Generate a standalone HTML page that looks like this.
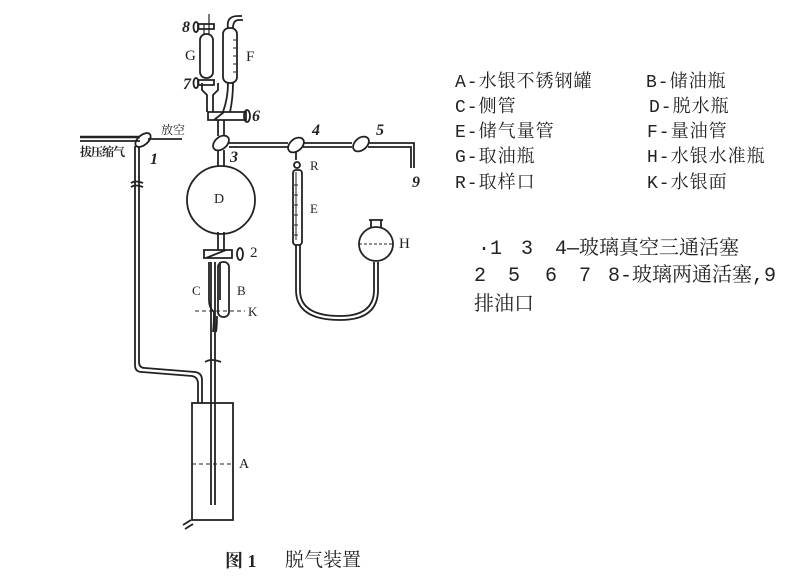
<!DOCTYPE html>
<html><head><meta charset="utf-8"><style>
body{margin:0;background:#fff;width:800px;height:582px;overflow:hidden;position:relative}
.t{position:absolute;font-family:"Liberation Mono","Noto Serif CJK SC",monospace;font-size:18px;letter-spacing:1px;color:#222;white-space:pre;line-height:1}
.b{position:absolute;font-family:"Liberation Serif","Noto Serif CJK SC",serif;font-size:20px;color:#222;white-space:pre;line-height:1}
.m{position:absolute;font-family:"Liberation Mono","Noto Serif CJK SC",monospace;font-size:20px;color:#222;white-space:pre;line-height:1}
</style></head><body>
<svg width="800" height="582" style="position:absolute;left:0;top:0" fill="none" stroke="#222" stroke-width="1.8">
<line x1="80" y1="137" x2="140" y2="137" stroke-width="2.5"/>
<line x1="80" y1="141" x2="140" y2="141"/>
<line x1="148" y1="139" x2="182" y2="139"/>
<ellipse cx="143" cy="140" rx="9" ry="5" transform="rotate(-40 143 140)"/>
<path d="M135 146 V365 Q135 372 142 372 L192 376 Q198 377 198 384 V403"/>
<path d="M139 146 V362 Q139 368 145 368 L195 372 Q202 373 202 380 V403"/>
<path d="M131 183 q4 -3 12 0 M131 187 q4 -3 12 0"/>
<rect x="192" y="403" width="41" height="117"/>
<line x1="192" y1="464" x2="233" y2="464" stroke-dasharray="4,3" stroke-width="1"/>
<path d="M183 525 l8 -5 M185 529 l8 -5"/>
<path d="M211 262 V505 M215 262 V505"/>
<path d="M205 362 q6 -4 16 0"/>
<path d="M209 262 V300 q0 8 5 12 M220 262 V300"/>
<rect x="218" y="262" width="11" height="55" rx="5"/>
<path d="M214 312 q0 12 -1 20 M217 316 q0 10 -1 16"/>
<line x1="195" y1="311" x2="245" y2="311" stroke-dasharray="4,3" stroke-width="1"/>
<path d="M204 250 h28 v8 h-28z M206 258 l20 -8"/>
<ellipse cx="240" cy="254" rx="3" ry="6"/>
<path d="M218 232 V250 M224 232 V250"/>
<circle cx="221" cy="200" r="34"/>
<path d="M218 150 V166 M224 150 V166"/>
<ellipse cx="221" cy="143" rx="9" ry="6" transform="rotate(-40 221 143)"/>
<path d="M218 120 V136 M224 120 V136"/>
<path d="M229 143 H288 M229 147 H288 M303 143 H352 M303 147 H352 M368 143 H414 V168 M368 147 H411 V168"/>
<ellipse cx="296" cy="145" rx="9" ry="6" transform="rotate(-40 296 145)"/>
<ellipse cx="361" cy="144" rx="9" ry="6" transform="rotate(-40 361 144)"/>
<path d="M296 152 V160"/>
<circle cx="297" cy="165" r="3"/>
<rect x="293" y="170" width="9" height="75" rx="3"/>
<path d="M296 240 V172 M294 185 h4 M294 195 h4 M294 205 h4 M294 215 h4 M294 225 h4 M294 235 h4" stroke-width="1"/>
<path d="M296 245 V290 Q296 320 340 320 Q378 320 378 290 V262 M300 245 V290 Q300 316 340 316 Q374 316 374 290 V262"/>
<circle cx="376" cy="244" r="17"/>
<line x1="359" y1="244" x2="393" y2="244" stroke-dasharray="3,2" stroke-width="1"/>
<path d="M371 227 V220 h-2 h14 h-2 v7"/>
<path d="M208 112 h38 v8 h-38z M214 120 l10 -8"/>
<ellipse cx="247" cy="116" rx="3" ry="6"/>
<path d="M207 112 V95 l-5 -5 V83 M213 112 V95 l5 -5 V83"/>
<rect x="200" y="34" width="13" height="44" rx="6"/>
<path d="M204 24 V34 M209 14 V34" stroke-width="1.2"/>
<path d="M198 24 h16 v5 h-16z M198 80 h16 v5 h-16z"/>
<ellipse cx="196" cy="27" rx="2.5" ry="5"/>
<ellipse cx="196" cy="83" rx="2.5" ry="5"/>
<rect x="223" y="28" width="14" height="55" rx="6"/>
<path d="M228 83 q0 15 -5 29 M233 83 q0 15 -3 29"/>
<path d="M228 28 q-2 -12 10 -12 h4 M233 28 q0 -8 6 -8 h4" />
<path d="M233 40 h3 M233 48 h3 M233 56 h3 M233 64 h3 M233 72 h3" stroke-width="1"/>
</svg>
<div class="b" style="font-size:12px;left:161px;top:124px">放空</div>
<div class="b" style="font-size:12px;left:80px;top:146px;letter-spacing:-1px;font-weight:bold">拔压缩气</div>
<div class="b" style="font-size:16px;left:150px;top:152px;font-style:italic;font-weight:bold">1</div>
<div class="b" style="font-size:16px;left:230px;top:150px;font-style:italic;font-weight:bold">3</div>
<div class="b" style="font-size:16px;left:312px;top:123px;font-style:italic;font-weight:bold">4</div>
<div class="b" style="font-size:16px;left:376px;top:123px;font-style:italic;font-weight:bold">5</div>
<div class="b" style="font-size:16px;left:412px;top:175px;font-style:italic;font-weight:bold">9</div>
<div class="b" style="font-size:16px;left:252px;top:109px;font-style:italic;font-weight:bold">6</div>
<div class="b" style="font-size:16px;left:183px;top:77px;font-style:italic;font-weight:bold">7</div>
<div class="b" style="font-size:16px;left:182px;top:20px;font-style:italic;font-weight:bold">8</div>
<div class="b" style="font-size:15px;left:250px;top:246px">2</div>
<div class="b" style="font-size:15px;left:185px;top:49px">G</div>
<div class="b" style="font-size:15px;left:246px;top:50px">F</div>
<div class="b" style="font-size:14px;left:214px;top:193px">D</div>
<div class="b" style="font-size:13px;left:310px;top:159px">R</div>
<div class="b" style="font-size:13px;left:310px;top:202px">E</div>
<div class="b" style="font-size:15px;left:399px;top:237px">H</div>
<div class="b" style="font-size:13px;left:192px;top:284px">C</div>
<div class="b" style="font-size:13px;left:237px;top:284px">B</div>
<div class="b" style="font-size:13px;left:248px;top:305px">K</div>
<div class="b" style="font-size:14px;left:239px;top:458px">A</div>
<div class="t" style="left:455px;top:74px">A-水银不锈钢罐</div>
<div class="t" style="left:646px;top:74px">B-储油瓶</div>
<div class="t" style="left:455px;top:99px">C-侧管</div>
<div class="t" style="left:649px;top:99px">D-脱水瓶</div>
<div class="t" style="left:455px;top:124px">E-储气量管</div>
<div class="t" style="left:647px;top:124px">F-量油管</div>
<div class="t" style="left:455px;top:149px">G-取油瓶</div>
<div class="t" style="left:647px;top:149px">H-水银水准瓶</div>
<div class="t" style="left:455px;top:175px">R-取样口</div>
<div class="t" style="left:647px;top:175px">K-水银面</div>
<div class="m" style="left:478px;top:240px">·1</div>
<div class="m" style="left:521px;top:240px">3</div>
<div class="m" style="left:555px;top:240px">4—玻璃真空三通活塞</div>
<div class="m" style="left:474px;top:267px">2</div>
<div class="m" style="left:508px;top:267px">5</div>
<div class="m" style="left:545px;top:267px">6</div>
<div class="m" style="left:579px;top:267px">7</div>
<div class="m" style="left:608px;top:267px">8-玻璃两通活塞,9</div>
<div class="m" style="left:474px;top:296px">排油口</div>
<div class="b" style="font-size:18px;left:225px;top:552px;font-weight:bold">图 1</div>
<div class="b" style="font-size:19px;left:285px;top:551px">脱气装置</div>
</body></html>
